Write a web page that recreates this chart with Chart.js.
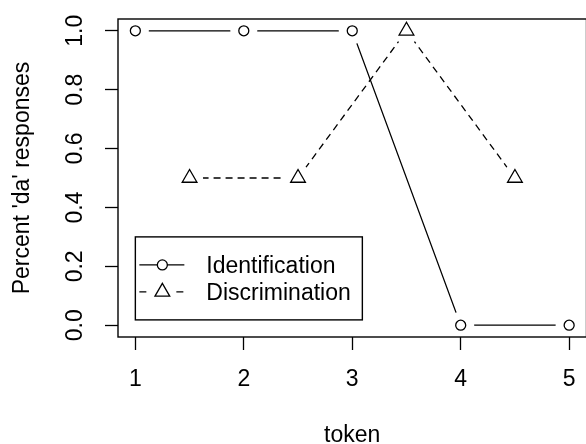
<!DOCTYPE html>
<html lang="en">
<head>
<meta charset="UTF-8">
<title>Percent 'da' responses by token</title>
<style>
    html, body { margin: 0; padding: 0; background: #fff; overflow: hidden; }
    #chart { display: block; }
</style>
</head>
<body>
<canvas id="chart" width="600" height="444"></canvas>
<script src="https://cdn.jsdelivr.net/npm/chart.js"></script>
<script>
    // values
    const tokens = [1, 2, 3, 4, 5]
    const identification = [1, 1, 1, 0, 0]
    const discrimTokens = [1.5, 2.5, 3.5, 4.5]
    const discrimination = [0.5, 0.5, 1, 0.5]
    const xTicks = [1, 2, 3, 4, 5]
    const yTicks = [0, 0.2, 0.4, 0.6, 0.8, 1.0]
    const yTickLabels = ['0.0', '0.2', '0.4', '0.6', '0.8', '1.0']
    const legendLabels = ['Identification', 'Discrimination']
    const legendAnchor = [1, 0.3] // legend(x = 1, y = 0.3, ...)

    const FAMILY = '"Liberation Sans", Arial, Helvetica, sans-serif'
    const SIZE = 23
    Chart.defaults.font.family = FAMILY
    Chart.defaults.font.size = SIZE
    Chart.defaults.color = '#000'

    const idPoints = tokens.map((x, i) => ({x: x, y: identification[i]}))
    const discPoints = discrimTokens.map((x, i) => ({x: x, y: discrimination[i]}))

    // R's type = "b": lines stop short of the symbols, faked with white discs
    const GAP = 13.5

    // box, rotated y labels and legend, like base R graphics
    const rDecor = {
        id: 'rDecor',
        afterDraw(chart) {
            const ctx = chart.ctx
            const area = chart.chartArea
            const xs = chart.scales.x
            const ys = chart.scales.y
            ctx.save()
            ctx.strokeStyle = '#000'
            ctx.lineWidth = 1.4
            ctx.strokeRect(area.left, area.top, area.right - area.left, area.bottom - area.top)

            ctx.fillStyle = '#000'
            ctx.font = SIZE + 'px ' + FAMILY
            ctx.textAlign = 'center'
            ctx.textBaseline = 'middle'
            yTicks.forEach((v, i) => {
                ctx.save()
                ctx.translate(75, ys.getPixelForValue(v))
                ctx.rotate(-Math.PI / 2)
                ctx.fillText(yTickLabels[i], 0, 1)
                ctx.restore()
            })

            // legend
            const lx = xs.getPixelForValue(legendAnchor[0])
            const ly = ys.getPixelForValue(legendAnchor[1])
            const w = 227, h = 83, rowH = 27
            ctx.fillStyle = '#fff'
            ctx.fillRect(lx, ly, w, h)
            ctx.lineWidth = 1.4
            ctx.strokeRect(lx, ly, w, h)
            const styles = [
                {point: 'circle', radius: 5},
                {point: 'triangle', radius: 8.5}
            ]
            legendLabels.forEach((label, i) => {
                const cy = ly + 28 + i * rowH
                const st = styles[i]
                ctx.strokeStyle = '#000'
                ctx.lineWidth = 1.3
                ctx.beginPath()
                if (i === 0) {
                    ctx.moveTo(lx + 4, cy)
                    ctx.lineTo(lx + 49, cy)
                } else {
                    ctx.moveTo(lx + 4, cy)
                    ctx.lineTo(lx + 11, cy)
                    ctx.moveTo(lx + 41, cy)
                    ctx.lineTo(lx + 48, cy)
                }
                ctx.stroke()
                ctx.fillStyle = '#fff'
                Chart.helpers.drawPoint(ctx, {
                    pointStyle: st.point, radius: st.radius, rotation: 0, borderWidth: 1.3
                }, lx + 27, cy)
                ctx.fillStyle = '#000'
                ctx.textAlign = 'left'
                ctx.fillText(label, lx + 71, cy + 2)
            })
            ctx.restore()
        }
    }

    new Chart(document.getElementById('chart'), {
        type: 'scatter',
        data: {
            datasets: [
                {
                    label: 'Identification',
                    data: idPoints,
                    showLine: false,
                    pointStyle: 'circle',
                    pointRadius: 5,
                    pointBorderWidth: 1.3,
                    pointBorderColor: '#000',
                    pointBackgroundColor: '#fff',
                    order: 0
                },
                {
                    label: 'Discrimination',
                    data: discPoints,
                    showLine: false,
                    pointStyle: 'triangle',
                    pointRadius: 8.5,
                    pointBorderWidth: 1.3,
                    pointBorderColor: '#000',
                    pointBackgroundColor: '#fff',
                    order: 0
                },
                {
                    data: idPoints,
                    showLine: false,
                    pointRadius: GAP,
                    pointBorderWidth: 0,
                    pointBackgroundColor: '#fff',
                    order: 1
                },
                {
                    data: discPoints,
                    showLine: false,
                    pointRadius: GAP,
                    pointBorderWidth: 0,
                    pointBackgroundColor: '#fff',
                    order: 1
                },
                {
                    data: idPoints,
                    showLine: true,
                    pointRadius: 0,
                    borderColor: '#000',
                    borderWidth: 1.3,
                    tension: 0,
                    order: 2
                },
                {
                    data: discPoints,
                    showLine: true,
                    pointRadius: 0,
                    borderColor: '#000',
                    borderWidth: 1.3,
                    borderDash: [7, 5],
                    tension: 0,
                    order: 2
                }
            ]
        },
        options: {
            responsive: false,
            devicePixelRatio: 1,
            animation: false,
            events: [],
            layout: {padding: {top: 19, right: 10, left: 0, bottom: 0}},
            plugins: {legend: {display: false}, tooltip: {enabled: false}},
            scales: {
                x: {
                    type: 'linear',
                    min: 0.84,
                    max: 5.16,
                    afterBuildTicks: s => { s.ticks = xTicks.map(v => ({value: v})) },
                    afterFit: s => { s.height = 107 },
                    grid: {drawOnChartArea: false, drawTicks: true, tickLength: 13, tickColor: '#000', tickWidth: 1.3},
                    border: {display: false},
                    ticks: {padding: 16, color: '#000', font: {size: SIZE}},
                    title: {display: true, text: 'token', color: '#000', font: {size: SIZE}, padding: {top: 0, bottom: -5}}
                },
                y: {
                    type: 'linear',
                    min: -0.04,
                    max: 1.04,
                    afterBuildTicks: s => { s.ticks = yTicks.map(v => ({value: v})) },
                    afterFit: s => { s.width = 118 },
                    grid: {drawOnChartArea: false, drawTicks: true, tickLength: 13, tickColor: '#000', tickWidth: 1.3},
                    border: {display: false},
                    ticks: {display: false},
                    title: {display: true, text: "Percent 'da' responses", color: '#000', font: {size: SIZE}, padding: {top: 8.5, bottom: 0}}
                }
            }
        },
        plugins: [rDecor]
    })
</script>
</body>
</html>
